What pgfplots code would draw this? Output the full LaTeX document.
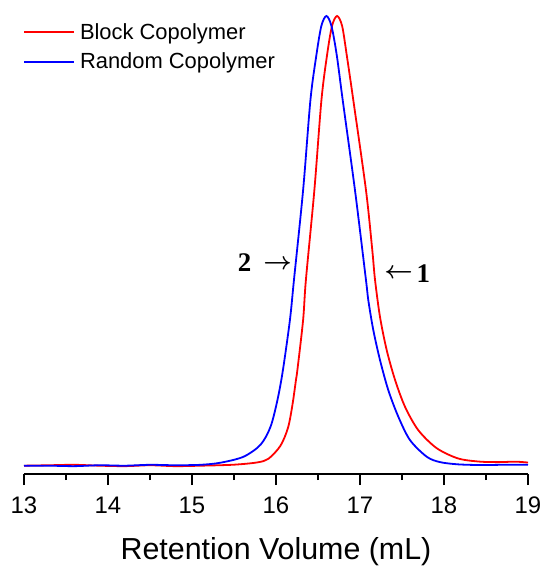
\documentclass[border=0pt]{standalone}
\usepackage{fontspec}
\setmainfont{Liberation Sans}
\newfontfamily\timesfont{Liberation Serif}
\usepackage{pgfplots}
\pgfplotsset{compat=1.18}

\begin{document}
\begin{tikzpicture}
\useasboundingbox (-24bp,-92bp) rectangle (519bp,474bp);
\begin{axis}[
    at={(0,0)}, anchor=south west,
    scale only axis,
    width=504bp, height=474bp,
    xmin=13, xmax=19,
    ymin=-0.01846, ymax=1.0356,
    axis x line=bottom,
    axis y line=none,
    x axis line style={-, line width=1.5bp},
    xtick={13,...,19},
    minor x tick num=1,
    tick align=outside,
    major tick length=11bp,
    minor tick length=6bp,
    tick style={line width=1.5bp, black},
    /pgf/number format/assume math mode=true,
    x tick label style={font=\fontsize{24}{28}\selectfont, inner sep=0pt, yshift=-12bp},
    xlabel={Retention Volume (mL)},
    xlabel style={font=\fontsize{30.5}{36}\selectfont, at={(rel axis cs:0.5,0)}, anchor=base, yshift=-85bp},
    legend style={draw=none, fill=none, at={(rel axis cs:0,1)}, anchor=north west,
        xshift=-1bp, yshift=-20.5bp, inner xsep=0pt, inner ysep=0pt,
        nodes={inner sep=3bp}, column sep=2bp, row sep=6bp,
        font=\fontsize{22}{26}\selectfont},
    legend cell align=left,
    legend image post style={xscale=2.94},
]
% Block copolymer
\addplot[red, line width=1.8bp, smooth] coordinates {
(13.0,0.000) (13.3,0.001) (13.6,0.002) (13.9,0.000) (14.2,-0.001) (14.5,0.001)
(14.8,-0.001) (15.103,0.000) (15.495,0.0022) (15.777,0.0073) (15.911,0.0156)
(16.053,0.0444) (16.143,0.0844) (16.196,0.1356) (16.238,0.1911) (16.255,0.2133)
(16.323,0.3244) (16.356,0.4133) (16.457,0.6133) (16.541,0.8133) (16.608,0.9133)
(16.667,0.978) (16.727,1.0) (16.787,0.978) (16.842,0.9133) (16.920,0.8133)
(17.071,0.613) (17.146,0.480) (17.179,0.413) (17.238,0.331) (17.318,0.257)
(17.417,0.191) (17.536,0.131) (17.694,0.079) (17.913,0.039) (18.170,0.016)
(18.430,0.009) (18.667,0.008) (18.85,0.009) (19.0,0.007)
};
\addlegendentry{Block Copolymer}
% Random copolymer
\addplot[blue, line width=1.8bp, smooth] coordinates {
(13.0,0.000) (13.3,0.000) (13.6,-0.001) (13.9,0.001) (14.2,0.000) (14.5,0.002)
(14.8,0.001) (15.103,0.002) (15.341,0.0067) (15.614,0.020) (15.816,0.0467)
(15.935,0.0867) (16.018,0.1467) (16.083,0.2133) (16.166,0.3244) (16.214,0.4133)
(16.323,0.6133) (16.410,0.8133) (16.481,0.9133) (16.54,0.978) (16.60,1.0)
(16.66,0.978) (16.723,0.9133) (16.794,0.8133) (16.940,0.613) (17.071,0.413)
(17.099,0.368) (17.158,0.302) (17.238,0.235) (17.337,0.168) (17.456,0.109)
(17.595,0.057) (17.794,0.020) (17.952,0.008) (18.167,0.003) (18.43,0.0015)
(18.7,0.002) (19.0,0.002)
};
\addlegendentry{Random Copolymer}
\node[font=\timesfont\bfseries\fontsize{27}{30}\selectfont] at (axis cs:15.625,0.4514) {2};
\node[font=\fontsize{24}{28}\selectfont\boldmath] at (axis cs:16.018,0.4463) {$\rightarrow$};
\node[font=\fontsize{24}{28}\selectfont\boldmath] at (axis cs:17.461,0.4278) {$\leftarrow$};
\node[font=\timesfont\bfseries\fontsize{27}{30}\selectfont] at (axis cs:17.754,0.4278) {1};
\end{axis}
\end{tikzpicture}
\end{document}
